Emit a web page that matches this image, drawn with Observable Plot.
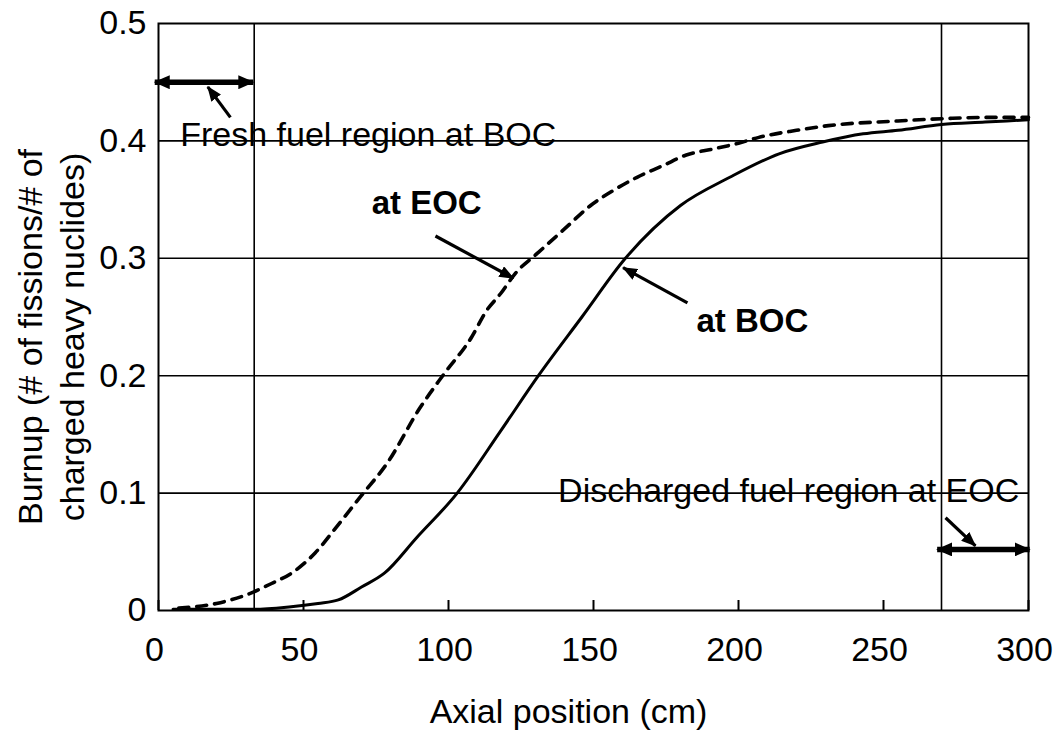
<!DOCTYPE html>
<html>
<head>
<meta charset="utf-8">
<script src="https://cdn.jsdelivr.net/npm/d3@7"></script>
<script src="https://cdn.jsdelivr.net/npm/@observablehq/plot@0.6"></script>
<style>
  body { margin: 0; background: #fff; }
  #chart svg { font-family: "Liberation Sans", Arial, sans-serif; }
</style>
</head>
<body>
<div id="chart"></div>
<script>
// Burnup profile along the core axis at beginning (BOC) and end (EOC) of cycle
const positionBOC = [5, 20, 33, 45, 55, 62, 70, 78, 89, 103, 118, 131, 146, 161, 180, 197, 214, 229, 243, 255, 270, 285, 300];
const burnupBOC   = [0.001, 0.001, 0.001, 0.003, 0.006, 0.009, 0.02, 0.032, 0.062, 0.1, 0.153, 0.2, 0.25, 0.3, 0.345, 0.369, 0.389, 0.399, 0.406, 0.409, 0.414, 0.416, 0.418];

const positionEOC = [7, 20, 31, 39, 46, 54, 61, 70, 79, 90, 98, 108, 113, 118, 123, 131, 140, 149, 157, 165, 174, 182, 191, 200, 207, 220, 231, 255, 271, 285, 300];
const burnupEOC   = [0.002, 0.006, 0.014, 0.023, 0.032, 0.049, 0.07, 0.098, 0.126, 0.172, 0.2, 0.233, 0.255, 0.27, 0.287, 0.305, 0.325, 0.345, 0.358, 0.369, 0.379, 0.388, 0.393, 0.398, 0.403, 0.409, 0.413, 0.417, 0.419, 0.42, 0.42];

// Axis ticks and reference lines
const xTicks = [0, 50, 100, 150, 200, 250, 300];
const yTicks = [0, 0.1, 0.2, 0.3, 0.4, 0.5];
const gridY = [0.1, 0.2, 0.3, 0.4];
const regionBoundaries = [33, 270];

// Axis titles
const xTitle = "Axial position (cm)";
const yTitleLines = ["Burnup (# of fissions/# of", "charged heavy nuclides)"];

// Fuel regions marked by double-headed arrows
const regionSpans = [
  {from: -1.3, to: 32.7, burnup: 0.45},
  {from: 268.5, to: 300.4, burnup: 0.052}
];

// Annotation labels
const regionLabels = [
  {text: "Fresh fuel region at BOC", x: 7.5, y: 0.405},
  {text: "Discharged fuel region at EOC", x: 137.8, y: 0.102}
];
const curveLabels = [
  {text: "at EOC", x: 73.5, y: 0.347},
  {text: "at BOC", x: 185.5, y: 0.246}
];

// Pointer arrows from labels to curves / regions
const pointers = [
  {x1: 24.8, y1: 0.42, x2: 17.0, y2: 0.446},
  {x1: 95.5, y1: 0.319, x2: 122.4, y2: 0.283},
  {x1: 182.4, y1: 0.262, x2: 160.2, y2: 0.292},
  {x1: 271.4, y1: 0.079, x2: 281.7, y2: 0.055}
];

const boc = positionBOC.map((x, i) => ({x, y: burnupBOC[i]}));
const eoc = positionEOC.map((x, i) => ({x, y: burnupEOC[i]}));

const font = "Liberation Sans, Arial, sans-serif";

// Solid triangular arrowhead of a given length (px)
function solidHead(length, width) {
  return (color) => {
    const marker = d3.create("svg:marker")
      .attr("viewBox", `${-length} ${-width / 2} ${length} ${width}`)
      .attr("markerUnits", "userSpaceOnUse")
      .attr("markerWidth", length)
      .attr("markerHeight", width)
      .attr("refX", -1)
      .attr("refY", 0)
      .attr("orient", "auto-start-reverse");
    marker.append("path")
      .attr("d", `M${-length},${-width / 2}L0,0L${-length},${width / 2}Z`)
      .attr("fill", color)
      .attr("stroke", "none");
    return marker.node();
  };
}

const chart = Plot.plot({
  width: 1062,
  height: 730,
  marginLeft: 158,
  marginRight: 34,
  marginTop: 23,
  marginBottom: 120,
  style: {fontFamily: font, background: "white", color: "black"},
  x: {domain: [0, 300]},
  y: {domain: [0, 0.5]},
  marks: [
    // annotation texts (grid lines run through them)
    Plot.text(regionLabels, {x: "x", y: "y", text: "text", textAnchor: "start", lineAnchor: "middle", fontSize: 34, fill: "black"}),
    Plot.text(curveLabels, {x: "x", y: "y", text: "text", textAnchor: "start", lineAnchor: "middle", fontSize: 33, fontWeight: "bold", fill: "black"}),
    Plot.ruleY(gridY, {stroke: "black", strokeWidth: 1.6}),
    Plot.ruleX(regionBoundaries, {y1: 0, y2: 0.5, stroke: "black", strokeWidth: 1.6}),
    Plot.frame({stroke: "black", strokeWidth: 2}),
    // inward tick marks on the x axis
    Plot.axisX(xTicks, {tickSize: 10, dy: -10, tickFormat: () => "", label: null, strokeWidth: 2}),
    Plot.axisX(xTicks, {tickSize: 0, tickPadding: 26, fontSize: 34, dx: -4, label: null, tickFormat: d => String(d)}),
    Plot.axisY(yTicks, {tickSize: 0, tickPadding: 12, fontSize: 34, label: null, tickFormat: d => String(d)}),
    Plot.text([xTitle], {frameAnchor: "bottom", dx: -25, dy: 102, lineAnchor: "middle", textAnchor: "middle", fontSize: 34, fill: "black"}),
    Plot.text([yTitleLines.join("\n")], {frameAnchor: "left", dx: -109, dy: 20, rotate: -90, textAnchor: "middle", lineAnchor: "middle", lineHeight: 1.24, fontSize: 34, fill: "black"}),
    // burnup curves
    Plot.line(boc, {x: "x", y: "y", curve: "monotone-x", stroke: "black", strokeWidth: 3}),
    Plot.line(eoc, {x: "x", y: "y", curve: "monotone-x", stroke: "black", strokeWidth: 3.6, strokeDasharray: "10,8"}),
    // region spans with heads at both ends
    Plot.link(regionSpans, {x1: "from", x2: "to", y1: "burnup", y2: "burnup", stroke: "black", strokeWidth: 5.5, markerStart: solidHead(16, 14), markerEnd: solidHead(16, 14)}),
    // pointers
    Plot.link(pointers, {x1: "x1", y1: "y1", x2: "x2", y2: "y2", stroke: "black", strokeWidth: 3.2, markerEnd: solidHead(15, 12)})
  ]
});

document.getElementById("chart").appendChild(chart);
</script>
</body>
</html>
